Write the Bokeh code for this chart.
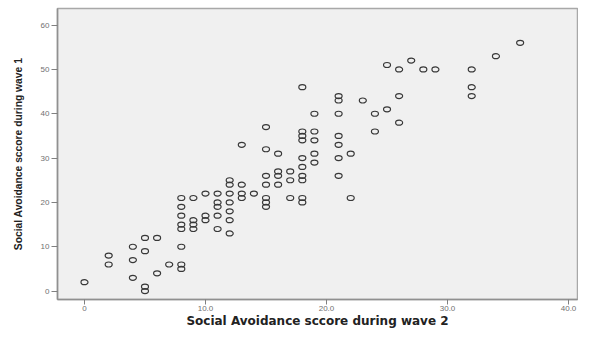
from bokeh.plotting import figure
from bokeh.models import FixedTicker, Range1d, ColumnDataSource
from bokeh.embed import file_html
from bokeh.resources import INLINE

# Social Avoidance score during wave 2 (x) and wave 1 (y)
wave2 = [0,
         2, 2,
         4, 4, 4,
         5, 5, 5, 5,
         6, 6,
         7,
         8, 8, 8, 8, 8, 8, 8, 8,
         9, 9, 9, 9,
         10, 10, 10,
         11, 11, 11, 11, 11,
         12, 12, 12, 12, 12, 12, 12,
         13, 13, 13, 13,
         14,
         15, 15, 15, 15, 15, 15, 15,
         16, 16, 16, 16,
         17, 17, 17,
         18, 18, 18, 18, 18, 18, 18, 18, 18, 18,
         19, 19, 19, 19, 19,
         21, 21, 21, 21, 21, 21, 21,
         22, 22,
         23,
         24, 24,
         25, 25,
         26, 26, 26,
         27,
         28, 29,
         32, 32, 32,
         34,
         36]
wave1 = [2,
         8, 6,
         10, 7, 3,
         12, 9, 1, 0,
         12, 4,
         6,
         21, 19, 17, 15, 14, 10, 6, 5,
         21, 16, 15, 14,
         22, 17, 16,
         22, 20, 19, 17, 14,
         25, 24, 22, 20, 18, 16, 13,
         33, 24, 22, 21,
         22,
         37, 32, 26, 24, 21, 20, 19,
         31, 27, 26, 24,
         27, 25, 21,
         46, 36, 35, 34, 30, 28, 26, 25, 21, 20,
         40, 36, 34, 31, 29,
         44, 43, 40, 35, 33, 30, 26,
         31, 21,
         43,
         40, 36,
         51, 41,
         50, 44, 38,
         52,
         50, 50,
         50, 46, 44,
         53,
         56]

x_ticks = [0, 10, 20, 30, 40]
x_tick_labels = ["0", "10.0", "20.0", "30.0", "40.0"]
y_ticks = [0, 10, 20, 30, 40, 50, 60]
y_tick_labels = ["0", "10", "20", "30", "40", "50", "60"]
x_title = "Social Avoidance sccore during wave 2"
y_title = "Social Avoidance sccore during wave 1"

src = ColumnDataSource(data=dict(x=wave2, y=wave1))

p = figure(width=578, height=330, output_backend="svg", toolbar_location=None,
           x_range=Range1d(-2.23, 40.74), y_range=Range1d(-1.9, 63.75),
           min_border_left=57, min_border_right=1, min_border_top=8,
           min_border_bottom=28,
           background_fill_color="#f0f0f0", border_fill_color="white")
p.grid.visible = False
p.outline_line_color = "#a8a8a8"
p.outline_line_width = 1.5

p.ellipse(x="x", y="y", width=7, height=5, width_units="screen",
          height_units="screen", fill_color=None, line_color="#383838",
          line_width=1.2, source=src)

for ax, ticks, labels, title in ((p.xaxis[0], x_ticks, x_tick_labels, x_title),
                                 (p.yaxis[0], y_ticks, y_tick_labels, y_title)):
    ax.ticker = FixedTicker(ticks=ticks)
    ax.major_label_overrides = {t: l for t, l in zip(ticks, labels)}
    ax.axis_label = title
    ax.axis_label_text_font_style = "bold"
    ax.axis_label_text_color = "#222222"
    ax.major_label_text_font = "Liberation Sans"
    ax.major_label_text_font_size = "8px"
    ax.major_label_text_color = "#707070"
    ax.axis_line_color = "#909090"
    ax.axis_line_width = 1.5
    ax.major_tick_line_color = "#808080"
    ax.major_tick_in = 0
    ax.minor_tick_line_color = None

xa = p.xaxis[0]
xa.axis_label_text_font = "DejaVu Sans"
xa.axis_label_text_font_size = "12px"
xa.major_tick_out = 5
xa.major_label_standoff = 1
xa.axis_label_standoff = 0

ya = p.yaxis[0]
ya.axis_label_text_font = "Liberation Sans"
ya.axis_label_text_font_size = "10.3px"
ya.major_tick_out = 6
ya.major_label_standoff = 2
ya.axis_label_standoff = 14

open("out.html", "w").write(file_html(p, INLINE))
